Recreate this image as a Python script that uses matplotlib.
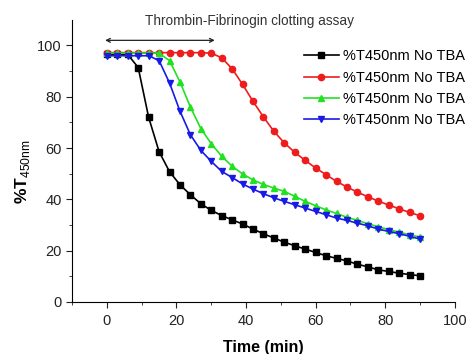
import matplotlib
matplotlib.use("Agg")
import matplotlib.pyplot as plt

plt.rcParams["font.family"] = ["Liberation Sans", "DejaVu Sans"]
plt.rcParams["mathtext.fontset"] = "custom"
plt.rcParams["mathtext.rm"] = "Liberation Sans"

# time every 3 min, 0..90
time = list(range(0, 91, 3))

black = [96.5, 96.5, 96.5, 91.4, 72.0, 58.6, 50.8, 45.7, 41.8, 38.3, 35.7, 33.7,
         32.0, 30.4, 28.4, 26.6, 24.9, 23.3, 21.9, 20.6, 19.3, 18.0, 17.0, 16.0,
         14.7, 13.7, 12.5, 11.9, 11.2, 10.7, 10.2]
red = [97.2, 97.2, 97.2, 97.2, 97.2, 97.2, 97.2, 97.2, 97.2, 97.2, 97.0, 95.2,
       90.9, 84.8, 78.2, 72.1, 66.5, 62.0, 58.3, 55.2, 52.2, 49.6, 47.0, 44.8,
       42.8, 41.0, 39.3, 37.8, 36.3, 34.9, 33.6]
green = [97.0, 97.0, 97.0, 97.0, 97.0, 97.0, 94.1, 85.8, 76.0, 67.6, 61.7, 56.8,
         52.9, 49.9, 47.6, 45.8, 44.4, 43.1, 41.2, 39.2, 37.5, 35.9, 34.5, 33.0,
         31.8, 30.5, 29.3, 28.2, 27.2, 26.2, 25.3]
blue = [96.0, 96.0, 96.0, 96.0, 96.0, 94.1, 85.4, 74.4, 65.2, 59.1, 54.8, 50.9,
        48.5, 46.0, 44.0, 42.2, 40.6, 39.2, 37.9, 36.6, 35.3, 34.0, 32.7, 31.8,
        30.7, 29.7, 28.4, 27.5, 26.6, 25.6, 24.5]
label = "%T450nm No TBA"

fig = plt.figure(figsize=(4.68, 3.54), dpi=100)
ax = fig.add_axes([0.154, 0.147, 0.818, 0.797])

ax.plot(time, black, "-s", color="black", lw=1.2, ms=4, label=label)
ax.plot(time, red, "-o", color="#ee1c1c", lw=1.2, ms=4.5, label=label)
ax.plot(time, green, "-^", color="#22e022", lw=1.2, ms=5, label=label)
ax.plot(time, blue, "-v", color="#1a1ae6", lw=1.2, ms=5, label=label)

# double arrow over the first 30 min
ax.annotate("", xy=(-0.5, 102), xytext=(31, 102),
            arrowprops=dict(arrowstyle="<->", color="#222222", lw=0.9,
                            shrinkA=0, shrinkB=0, mutation_scale=7))
ax.text(41, 109.5, "Thrombin-Fibrinogin clotting assay", ha="center", va="center",
        fontsize=9.8, color="#333333")

ax.set_xlim(-10, 100)
ax.set_ylim(0, 110)
ax.set_xticks([0, 20, 40, 60, 80, 100])
ax.set_xticks(range(-10, 101, 10), minor=True)
ax.set_yticks([0, 20, 40, 60, 80, 100])
ax.set_yticks(range(0, 101, 10), minor=True)
ax.tick_params(which="both", direction="out", labelsize=10.5, colors="#222222")
ax.tick_params(which="major", length=4)
ax.tick_params(which="minor", length=2)
ax.tick_params(axis="x", pad=5)
for s in ["top", "right"]:
    ax.spines[s].set_visible(False)

ax.set_xlabel("Time (min)", fontsize=11.5, fontweight="bold", labelpad=8)
ax.set_ylabel(r"%T$_{\rm 450nm}$", fontsize=12.5, fontweight="bold")
ax.yaxis.set_label_coords(-0.105, 0.46)

ax.legend(loc="upper left", bbox_to_anchor=(0.605, 0.895), frameon=False,
          fontsize=10.5, handlelength=2.4, handletextpad=0.3, labelspacing=0.5,
          borderaxespad=0, borderpad=0)

fig.savefig("out.png", dpi=100)
